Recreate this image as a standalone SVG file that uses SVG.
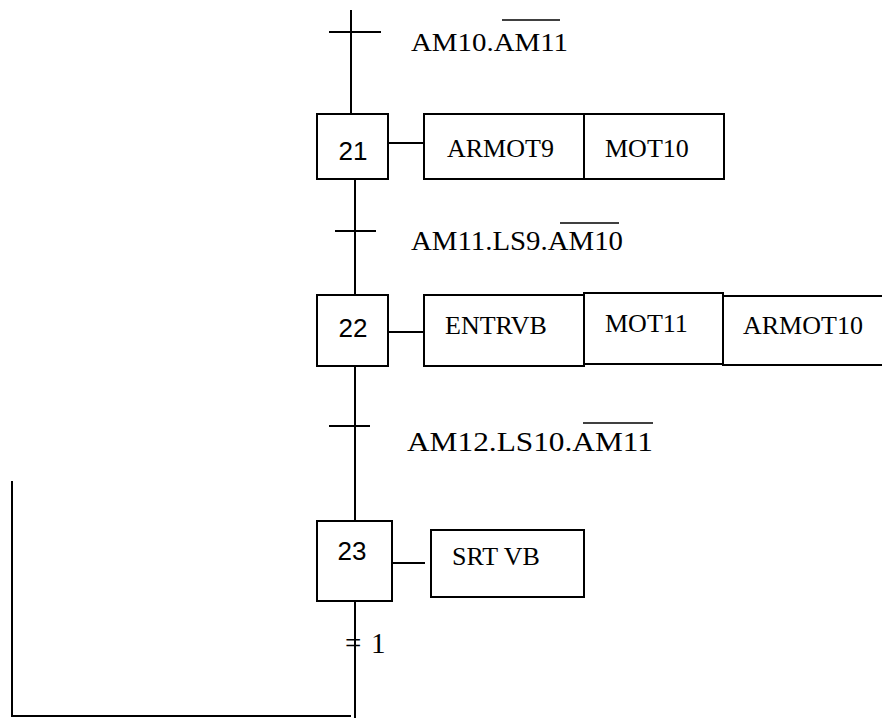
<svg xmlns="http://www.w3.org/2000/svg" width="882" height="718" viewBox="0 0 882 718">
  <style>
    .box { fill: #ffffff; stroke: #000000; stroke-width: 2; }
    .ln { stroke: #000000; stroke-width: 2; fill: none; }
    .ov { stroke: #000000; stroke-width: 1.6; fill: none; }
    .step { font-family: "Liberation Sans", "DejaVu Sans", sans-serif; font-size: 26px; fill: #000000; text-anchor: middle; }
    .act { font-family: "Liberation Serif", "Times New Roman", serif; font-size: 26px; fill: #000000; }
    .cond { font-family: "Liberation Serif", "Times New Roman", serif; fill: #000000; }
  </style>
  <rect x="0" y="0" width="882" height="718" fill="#ffffff"/>

  <g id="connectors">
    <line class="ln" x1="351" y1="10" x2="351" y2="114"/>
    <line class="ln" x1="355" y1="179" x2="355" y2="295"/>
    <line class="ln" x1="355" y1="366" x2="355" y2="521"/>
    <line class="ln" x1="355" y1="601" x2="355" y2="718"/>
    <polyline class="ln" points="351,716 12,716 12,481"/>
    <line class="ln" x1="388" y1="143" x2="424" y2="143"/>
    <line class="ln" x1="388" y1="332" x2="424" y2="332"/>
    <line class="ln" x1="392" y1="563" x2="425" y2="563"/>
  </g>

  <g id="transition-0">
    <line class="ln" x1="329" y1="32" x2="381" y2="32"/>
    <text class="cond" x="411" y="51" font-size="25" textLength="157" lengthAdjust="spacingAndGlyphs">AM10.AM11</text>
    <line class="ov" x1="502" y1="20" x2="560" y2="20"/>
  </g>

  <g id="step-21">
    <rect class="box" x="317" y="114" width="71" height="65"/>
    <text class="step" x="353" y="160">21</text>
  </g>
  <g id="actions-21">
    <rect class="box" x="424" y="114" width="160" height="65"/>
    <rect class="box" x="584" y="114" width="140" height="65"/>
    <text class="act" x="447" y="157">ARMOT9</text>
    <text class="act" x="605" y="157">MOT10</text>
  </g>

  <g id="transition-1">
    <line class="ln" x1="335" y1="231" x2="376" y2="231"/>
    <text class="cond" x="411" y="250" font-size="26.5" textLength="212" lengthAdjust="spacingAndGlyphs">AM11.LS9.AM10</text>
    <line class="ov" x1="560" y1="223" x2="619" y2="223"/>
  </g>

  <g id="step-22">
    <rect class="box" x="317" y="295" width="71" height="71"/>
    <text class="step" x="353" y="337">22</text>
  </g>
  <g id="actions-22">
    <rect class="box" x="424" y="295" width="160" height="71"/>
    <rect class="box" x="584" y="293" width="139" height="71"/>
    <rect class="box" x="723" y="296" width="170" height="69"/>
    <text class="act" x="445" y="334">ENTRVB</text>
    <text class="act" x="605" y="332">MOT11</text>
    <text class="act" x="743" y="334">ARMOT10</text>
  </g>

  <g id="transition-2">
    <line class="ln" x1="329" y1="426" x2="370" y2="426"/>
    <text class="cond" x="407" y="451" font-size="27.5" textLength="246" lengthAdjust="spacingAndGlyphs">AM12.LS10.AM11</text>
    <line class="ov" x1="583" y1="423" x2="653" y2="423"/>
  </g>

  <g id="step-23">
    <rect class="box" x="317" y="521" width="75" height="80"/>
    <text class="step" x="352" y="560">23</text>
  </g>
  <g id="actions-23">
    <rect class="box" x="431" y="530" width="153" height="67"/>
    <text class="act" x="452" y="565">SRT VB</text>
  </g>

  <g id="transition-3">
    <text class="cond" x="345" y="653" font-size="29">= <tspan x="371">1</tspan></text>
  </g>
</svg>
